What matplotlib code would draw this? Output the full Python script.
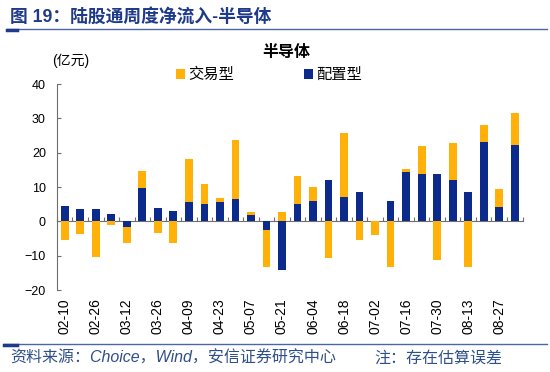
import numpy as np
import matplotlib.pyplot as plt
from matplotlib.lines import Line2D

plt.rcParams['font.family'] = ['Liberation Sans', 'Noto Sans CJK SC']

dates = ["02-10", "02-19", "02-26", "03-05", "03-12", "03-19", "03-26", "04-02",
         "04-09", "04-16", "04-23", "04-30", "05-07", "05-14", "05-21", "05-28",
         "06-04", "06-11", "06-18", "06-25", "07-02", "07-09", "07-16", "07-23",
         "07-30", "08-06", "08-13", "08-20", "08-27", "09-03"]
# 配置型
allocation = [4.6, 3.6, 3.5, 2.2, -1.6, 9.7, 3.9, 3.1, 5.6, 5.1,
              5.6, 6.4, 2.0, -2.5, -14.1, 5.2, 6.0, 12.1, 7.1, 8.5,
              0.0, 5.9, 14.5, 13.7, 13.7, 12.1, 8.7, 23.0, 4.1, 22.2]
# 交易型
trading = [-5.3, -3.8, -10.4, -1.2, -4.7, 5.0, -3.5, -6.2, 12.5, 5.9,
           1.3, 17.2, 0.8, -10.9, 2.8, 8.1, 3.9, -10.7, 18.5, -5.5,
           -3.9, -13.2, 0.7, 8.4, -11.2, 10.8, -13.2, 5.1, 5.4, 9.5]

BLUE = "#0b2a8c"
ORANGE = "#ffb10a"
AXIS = "#6e6e6e"
NAVY = "#1f3a8a"

alloc = np.array(allocation)
trade = np.array(trading)
x = np.arange(len(dates))
# stack positives upward and negatives downward, like Excel
bottom = np.where(trade >= 0, np.maximum(alloc, 0), np.minimum(alloc, 0))

fig = plt.figure(figsize=(5.5, 3.72), dpi=100)
ax = fig.add_axes([0.1036, 0.2204, 0.8464, 0.5536])

ax.bar(x, alloc, width=0.5, color=BLUE, label="配置型", zorder=2)
ax.bar(x, trade, width=0.5, bottom=bottom, color=ORANGE, label="交易型", zorder=2)

ax.set_xlim(-0.5, len(dates) - 0.5)
ax.set_ylim(-20, 40)
ax.set_yticks(range(-20, 41, 10))
ax.tick_params(axis="y", direction="in", length=3, color=AXIS, labelsize=9, pad=8)
ax.set_xticks(x[::2], dates[::2], rotation=90)
ax.tick_params(axis="x", length=0, labelsize=10, pad=6)
for s in ["top", "right", "bottom"]:
    ax.spines[s].set_visible(False)
ax.spines["left"].set_color(AXIS)

# zero line with category ticks
zero = ax.secondary_xaxis(0, transform=ax.transData)
zero.set_xticks(np.arange(-0.5, len(dates), 1.0), labels=[])
zero.tick_params(direction="in", length=3, color=AXIS)
zero.spines["bottom"].set_color(AXIS)

h, l = ax.get_legend_handles_labels()
ax.legend(h[::-1], l[::-1], ncol=2, loc="lower center", bbox_to_anchor=(0.455, 0.98),
          frameon=False, fontsize=11, columnspacing=4.6, handlelength=0.6,
          handleheight=0.6, handletextpad=0.2, borderaxespad=0)

ax.text(-0.01, 1.08, "(亿元)", transform=ax.transAxes, fontsize=10, ha="left", va="bottom")
fig.text(0.52, 0.86, "半导体", fontsize=11.5, fontweight="bold", ha="center", va="center")

fig.text(0.018, 0.955, "图 19：陆股通周度净流入-半导体", fontsize=12.8, fontweight="bold",
         color=NAVY, ha="left", va="center")
fig.add_artist(Line2D([0.013, 0.995], [0.922, 0.922], color="#4a66a8", lw=1))
fig.add_artist(Line2D([0.013, 0.031], [0.919, 0.919], color=NAVY, lw=2.5))
fig.add_artist(Line2D([0.008, 0.995], [0.075, 0.075], color="#4a66a8", lw=1))
fig.add_artist(Line2D([0.008, 0.031], [0.072, 0.072], color=NAVY, lw=2.5))

fig.text(0.018, 0.038, "资料来源：Choice，Wind，安信证券研究中心", fontsize=11.5,
         style="italic", color="#2f4f8a", ha="left", va="center")
fig.text(0.68, 0.038, "注：存在估算误差", fontsize=11.5, style="italic",
         color="#2f4f8a", ha="left", va="center")

fig.savefig("out.png", dpi=100)
